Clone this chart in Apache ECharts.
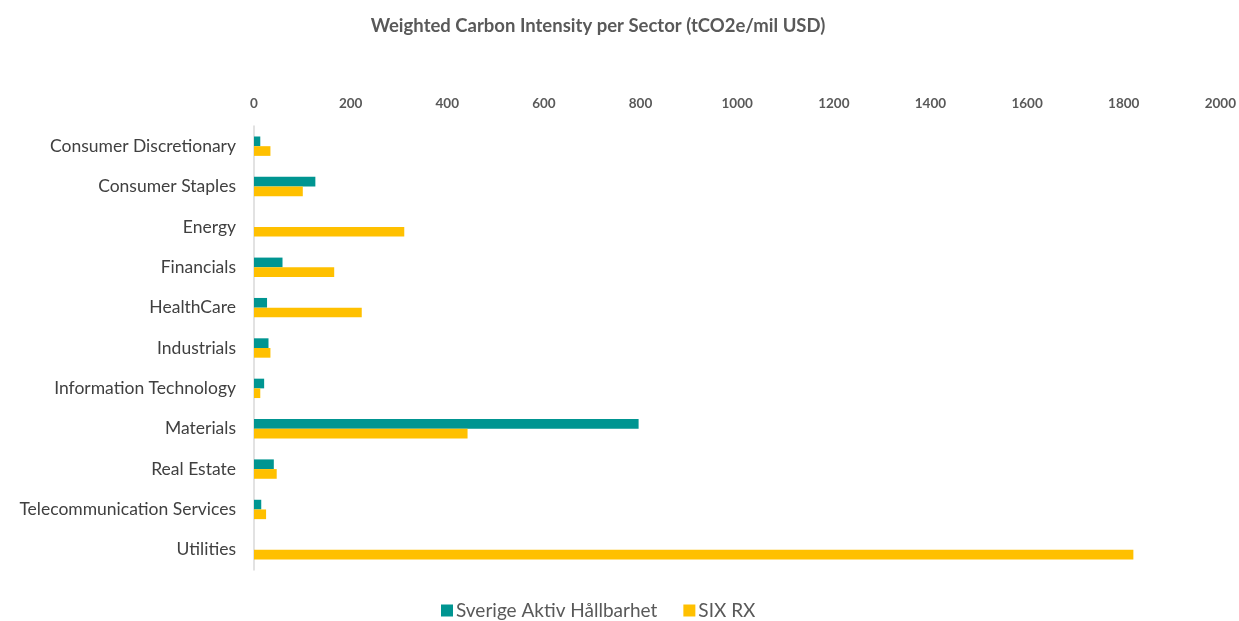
<!DOCTYPE html>
<html><head><meta charset="utf-8">
<script src="https://cdn.jsdelivr.net/npm/echarts@6/dist/echarts.min.js"></script>
<style>html,body{margin:0;padding:0;background:#fff}#c{width:1239px;height:621px}</style>
</head><body><div id="c"></div>
<script>
const categories = ["Consumer Discretionary","Consumer Staples","Energy","Financials","HealthCare","Industrials","Information Technology","Materials","Real Estate","Telecommunication Services","Utilities"];
const fundValues = [13,127,0,59,27,30,21,796,41,15,0];
const indexValues = [34,101,311,166,223,34,13,442,47,25,1820];
const seriesNames = ["Sverige Aktiv Hållbarhet","SIX RX"];
const xTicks = {min:0,max:2000,interval:200};

const chart = echarts.init(document.getElementById('c'));
chart.setOption({
  backgroundColor:'#fff',
  animation:false,
  title:{text:'Weighted Carbon Intensity per Sector (tCO2e/mil USD)',left:593,textAlign:'center',top:12,
    textStyle:{fontFamily:'Lato',fontSize:18.5,fontWeight:'bold',color:'#595959'}},
  legend:{bottom:-4,left:436,itemWidth:12,itemHeight:12,itemGap:26,icon:'rect',
    textStyle:{fontFamily:'Lato',fontSize:19,color:'#595959',padding:[0,0,0,-2]},data:seriesNames},
  grid:{left:254,right:18,top:126,bottom:51,containLabel:false},
  xAxis:{type:'value',position:'top',min:xTicks.min,max:xTicks.max,interval:xTicks.interval,
    axisLine:{show:false},axisTick:{show:false},splitLine:{show:false},
    axisLabel:{fontFamily:'Lato',fontSize:13.5,fontWeight:'bold',color:'#595959',margin:15,
      formatter:function(v){return String(v);}}},
  yAxis:{type:'category',inverse:true,data:categories,
    axisLine:{show:true,lineStyle:{color:'#d9d9d9',width:1.5}},axisTick:{show:false},
    axisLabel:{fontFamily:'Lato',fontSize:17.5,color:'#404040',margin:18}},
  series:[
    {name:seriesNames[0],type:'bar',data:fundValues,itemStyle:{color:'#009591'},barGap:'0%',barCategoryGap:'52%'},
    {name:seriesNames[1],type:'bar',data:indexValues,itemStyle:{color:'#FFC000'},barGap:'0%',barCategoryGap:'52%'}
  ]
});
</script></body></html>
